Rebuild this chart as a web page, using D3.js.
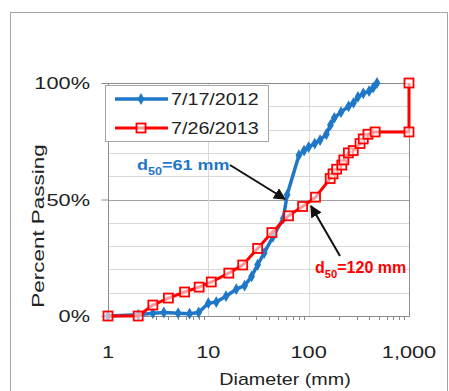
<!DOCTYPE html>
<html><head><meta charset="utf-8">
<script src="https://cdn.jsdelivr.net/npm/d3@7"></script>
<style>body{margin:0;background:#fff}svg{display:block}text{font-family:"Liberation Sans",Arial,sans-serif}</style>
</head><body><svg id="c" width="449" height="391"></svg>
<script>
const seriesNames = ["7/17/2012", "7/26/2013"];
const blueDiam = [1,2,2.8,3.6,5,6.5,8,10,12,15,19,23,27,31,36,44,56,61,80,90,100,115,130,150,165,180,210,250,280,310,350,400,440,480];
const bluePct  = [0,0.5,1.2,1.5,1.2,1,1.5,5.5,6,8.5,11.5,13,17,22,27,34,42,52,69,71,72.5,74,75.5,78,82,85,87.5,90,91.5,94,95.5,96.5,98,100];
const redDiam = [1,2,2.8,4,5.8,8.1,10.7,16,22,31,43,63,87,117,164,175,190,214,224,249,278,325,350,390,460,1000,1000];
const redPct  = [0,0,4.7,7.7,10.3,12.4,14.6,18.4,21.9,29,35.8,43,47,51,59,61,63,64.8,67,70,71,74,76,78,79,79,100];
const xTicks = [1,10,100,1000];
const xTickLabels = ["1","10","100","1,000"];
const yTicks = [0,50,100];
const yTickLabels = ["0%","50%","100%"];
const annotations = [
  {sub:"50", rest:"=61 mm", tx:137, ty:170, color:"#1f77c8", size:15, sx:1.2, from:[230,165], to:[285,199]},
  {sub:"50", rest:"=120 mm", tx:315, ty:273, color:"#ff0000", size:16, sx:1.0, from:[340,256], to:[311,206]}
];

const SX = 1.28; // horizontal stretch of the reference's text
const svg = d3.select("#c");
const L=108, R=409, T=83, B=316;
const x = d3.scaleLog().domain([1,1000]).range([L,R]);
const y = d3.scaleLinear().domain([0,100]).range([B,T]);

function stext(px, py, str, opts={}){
  const anchor = opts.anchor||"start", rot = opts.rotate||0, sx = opts.sx||SX;
  return svg.append("text")
    .attr("transform",`translate(${px},${py}) rotate(${rot}) scale(${sx},1)`)
    .attr("text-anchor",anchor).attr("font-size",opts.size||17).attr("fill",opts.fill||"#222")
    .text(str);
}

// outer frame
svg.append("rect").attr("x",10.5).attr("y",12.5).attr("width",437).attr("height",400)
  .attr("fill","none").attr("stroke","#a6a6a6").attr("stroke-width",1);

// gridlines
const g = svg.append("g");
g.selectAll(".hg").data(d3.range(10,100,10)).join("line")
  .attr("x1",L).attr("x2",R).attr("y1",d=>Math.round(y(d))+0.5).attr("y2",d=>Math.round(y(d))+0.5)
  .attr("stroke",d=>d===50?"#a0a0a0":"#d9d9d9").attr("stroke-width",1);
g.selectAll(".vg").data([10,100]).join("line")
  .attr("y1",T).attr("y2",B).attr("x1",d=>Math.round(x(d))+0.5).attr("x2",d=>Math.round(x(d))+0.5)
  .attr("stroke","#d9d9d9");
svg.append("rect").attr("x",L+0.5).attr("y",T+0.5).attr("width",R-L).attr("height",B-T)
  .attr("fill","none").attr("stroke","#8c8c8c");

// axes (ticks via d3 axes, labels stretched)
const xa = svg.append("g").attr("transform",`translate(0,${B+0.5})`)
  .call(d3.axisBottom(x).tickValues(xTicks).tickFormat("").tickSize(0));
xa.select(".domain").remove();
xTicks.forEach((t,i)=>stext(x(t), 358, xTickLabels[i], {anchor:"middle"}));
const minor = [];
[1,10,100].forEach(b=>{for(let k=2;k<=9;k++) minor.push(b*k);});
svg.selectAll(".mt").data(minor).join("line")
  .attr("x1",d=>Math.round(x(d))+0.5).attr("x2",d=>Math.round(x(d))+0.5).attr("y1",B).attr("y2",B+4)
  .attr("stroke","#8c8c8c");

const ya = svg.append("g").attr("transform",`translate(${L+0.5},0)`)
  .call(d3.axisLeft(y).tickValues(yTicks).tickFormat("").tickSize(7));
ya.select(".domain").remove();
ya.selectAll("line").attr("stroke","#8c8c8c");
yTicks.forEach((t,i)=>stext(90, y(t)+6, yTickLabels[i], {anchor:"end"}));

stext(44, 226, "Percent Passing", {anchor:"middle", rotate:-90, sx:1.32});
stext(285, 385, "Diameter (mm)", {anchor:"middle", sx:1.16});

// series
const line = d3.line().x(d=>x(d[0])).y(d=>y(d[1]));
const blue = blueDiam.map((d,i)=>[d,bluePct[i]]);
const red = redDiam.map((d,i)=>[d,redPct[i]]);
const BLUE="#1f77c8", RED="#ff0000";

svg.append("path").datum(blue).attr("d",line).attr("fill","none").attr("stroke",BLUE).attr("stroke-width",3.5).attr("stroke-linejoin","round");
svg.selectAll(".bm").data(blue).join("path")
  .attr("d",d3.symbol(d3.symbolDiamond,40)).attr("transform",d=>`translate(${x(d[0])},${y(d[1])})`)
  .attr("fill",BLUE);

svg.append("path").datum(red).attr("d",line).attr("fill","none").attr("stroke",RED).attr("stroke-width",3).attr("stroke-linejoin","round");
svg.selectAll(".rm").data(red).join("rect")
  .attr("x",d=>x(d[0])-4.5).attr("y",d=>y(d[1])-4.5).attr("width",9).attr("height",9)
  .attr("fill","#fff").attr("fill-opacity",0.6).attr("stroke",RED).attr("stroke-width",1.8);

// legend
svg.append("rect").attr("x",105.5).attr("y",85.5).attr("width",163).attr("height",56)
  .attr("fill","#fff").attr("stroke","#a6a6a6");
[[BLUE,99],[RED,128]].forEach(([c,yy],i)=>{
  svg.append("line").attr("x1",115).attr("x2",168).attr("y1",yy).attr("y2",yy).attr("stroke",c).attr("stroke-width",i?3:3.5);
  if(i===0) svg.append("path").attr("d",d3.symbol(d3.symbolDiamond,40)).attr("transform",`translate(141,${yy})`).attr("fill",c);
  else svg.append("rect").attr("x",136.5).attr("y",yy-4.5).attr("width",9).attr("height",9).attr("fill","#fff").attr("fill-opacity",0.6).attr("stroke",c).attr("stroke-width",1.8);
  stext(171, yy+6, seriesNames[i], {sx:1.16});
});

// annotations
svg.append("defs").append("marker").attr("id","ah").attr("viewBox","0 0 10 10").attr("refX",9).attr("refY",5)
  .attr("markerWidth",6).attr("markerHeight",6).attr("orient","auto")
  .append("path").attr("d","M0,0L10,5L0,10z").attr("fill","#111");
annotations.forEach(a=>{
  svg.append("line").attr("x1",a.from[0]).attr("y1",a.from[1]).attr("x2",a.to[0]).attr("y2",a.to[1])
    .attr("stroke","#111").attr("stroke-width",2).attr("marker-end","url(#ah)");
  const t = svg.append("text").attr("transform",`translate(${a.tx},${a.ty}) scale(${a.sx},1)`)
    .attr("font-size",a.size).attr("font-weight","bold").attr("fill",a.color);
  t.append("tspan").text("d");
  t.append("tspan").attr("font-size",a.size*0.7).attr("dy",a.size*0.3).text(a.sub);
  t.append("tspan").attr("dy",-a.size*0.3).text(a.rest);
});
</script></body></html>
